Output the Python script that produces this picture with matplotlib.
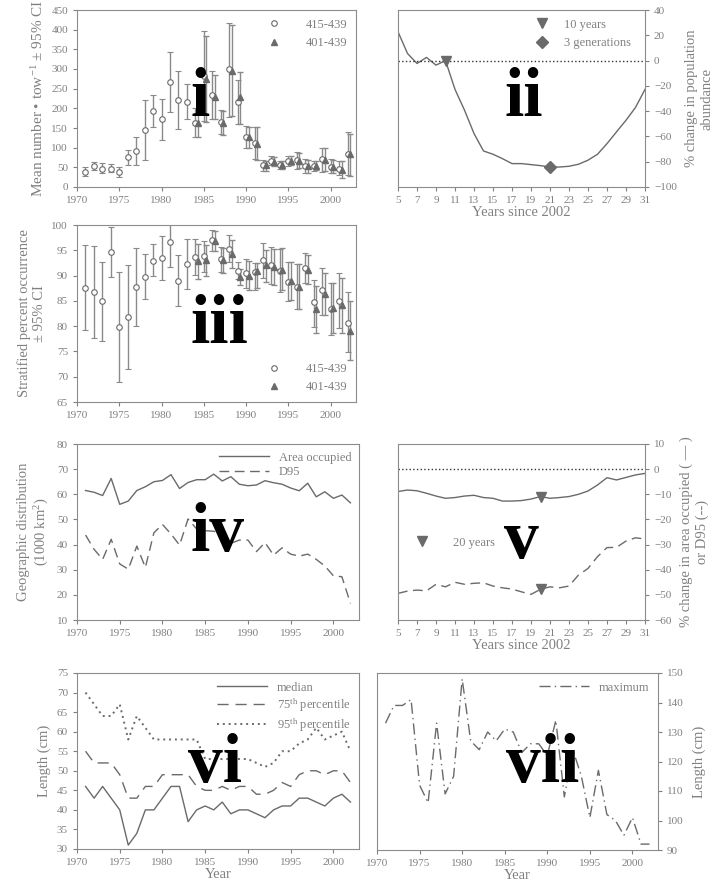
import numpy as np
import matplotlib
matplotlib.use("Agg")
import matplotlib.pyplot as plt

plt.rcParams["font.family"] = ["Liberation Serif", "DejaVu Serif"]
plt.rcParams["mathtext.fontset"] = "custom"
plt.rcParams["mathtext.rm"] = "Liberation Serif"
plt.rcParams["mathtext.it"] = "Liberation Serif:italic"

TXT = "#808080"
LN = "#6a6a6a"
plt.rcParams.update({
    "text.color": TXT, "axes.labelcolor": TXT, "xtick.color": TXT,
    "ytick.color": TXT, "axes.edgecolor": "#8c8c8c",
    "xtick.labelsize": 8, "ytick.labelsize": 8, "axes.labelsize": 10.5,
    "xtick.major.size": 3, "ytick.major.size": 3,
    "xtick.major.width": 0.8, "ytick.major.width": 0.8,
})

# ---- data ----
years = np.arange(1971, 2003)
years_b = np.arange(1984, 2003)

# (i) mean number per tow, 415-439 and 401-439
tow_a = [38, 53, 47, 47, 38, 76, 92, 146, 193, 174, 268, 222, 216, 163, 282, 235,
         166, 299, 215, 127, 112, 57, 66, 55, 66, 68, 53, 53, 70, 51, 47, 85]
tow_a_lo = [28, 42, 35, 37, 25, 57, 57, 68, 153, 120, 191, 147, 172, 128, 168, 174,
            136, 178, 161, 99, 70, 40, 55, 45, 53, 47, 35, 40, 38, 35, 30, 30]
tow_a_hi = [50, 64, 60, 58, 52, 95, 127, 222, 233, 225, 344, 296, 261, 200, 396, 295,
            197, 416, 272, 154, 153, 68, 78, 66, 80, 88, 70, 65, 100, 70, 67, 140]
tow_b = [163, 275, 229, 163, 295, 229, 127, 109, 55, 64, 57, 66, 66, 53, 53, 68, 51, 44, 83]
tow_b_lo = [127, 165, 172, 133, 180, 161, 99, 68, 41, 53, 47, 55, 48, 35, 42, 40, 35, 22, 28]
tow_b_hi = [200, 384, 286, 193, 412, 293, 153, 153, 66, 76, 67, 78, 87, 68, 65, 98, 68, 65, 135]

# (ii) % change in abundance
proj_years = np.arange(5, 32)
abund_chg = [22.8, 5.6, -2.3, 2.5, -3.6, 0, -22.8, -39.2, -57.7, -71.5, -74.1, -77.6,
             -81.5, -81.5, -82.3, -83.1, -84.2, -84.2, -83.6, -82.0, -78.8, -74.1,
             -65.7, -56.4, -47.2, -37.1, -22.8]

# (iii) stratified percent occurrence
occ_a = [87.5, 86.7, 84.9, 94.6, 79.9, 81.8, 87.7, 89.7, 92.9, 93.5, 96.6, 89.0, 92.3,
         93.7, 93.8, 97.1, 93.3, 95.2, 91.0, 90.5, 90.8, 93.1, 92.1, 91.0, 88.7, 87.7,
         91.5, 84.7, 87.2, 83.4, 85.0, 80.7]
occ_a_lo = [79.3, 77.6, 77.1, 89.7, 68.9, 71.5, 80.1, 85.3, 90.0, 89.2, 91.6, 83.9, 87.3,
            90.2, 90.8, 94.8, 90.8, 92.6, 89.3, 87.5, 87.2, 89.6, 88.3, 86.7, 84.9, 83.4,
            88.5, 79.9, 82.2, 78.3, 79.6, 74.8]
occ_a_hi = [96.1, 95.8, 92.7, 99.7, 90.8, 92.1, 95.4, 94.3, 96.2, 97.9, 100.5, 94.1, 97.2,
            97.2, 96.9, 99.1, 95.6, 98.1, 92.6, 93.3, 92.5, 96.4, 95.6, 95.2, 92.6, 92.2,
            94.5, 89.2, 91.5, 88.5, 90.6, 86.7]
occ_b = [92.9, 93.0, 96.9, 93.0, 94.3, 89.8, 90.0, 91.0, 92.0, 91.6, 91.2, 89.0, 87.8,
         91.1, 83.4, 86.4, 83.6, 84.2, 79.1]
occ_b_lo = [89.3, 90.0, 94.8, 90.6, 91.5, 88.2, 87.1, 87.5, 88.8, 88.2, 87.1, 85.2, 83.4,
            88.4, 78.7, 82.2, 78.6, 78.6, 73.3]
occ_b_hi = [96.3, 96.1, 98.9, 95.4, 97.0, 91.3, 92.8, 92.5, 95.1, 95.2, 95.4, 92.7, 92.2,
            94.1, 88.0, 90.6, 88.5, 89.5, 84.9]

# (iv) geographic distribution (1000 km2)
area_occ = [61.5, 60.8, 59.5, 66.3, 56.0, 57.3, 61.5, 63.0, 65.0, 65.5, 67.8, 62.3, 64.7,
            65.8, 65.8, 68.0, 65.3, 67.0, 64.0, 63.4, 63.7, 65.4, 64.6, 64.0, 62.5, 61.4,
            64.4, 59.0, 61.0, 58.4, 59.7, 56.6]
d95 = [43.8, 38.1, 34.1, 42.1, 32.3, 30.2, 39.4, 30.9, 44.7, 48.0, 44.2, 39.8, 50.2,
       46.2, 45.5, 45.3, 44.0, 40.5, 41.8, 41.8, 37.2, 40.8, 35.8, 38.7, 36.2, 35.4,
       36.2, 34.1, 31.5, 27.6, 27.2, 16.6]

# (v) % change in area occupied / D95
area_chg = [-8.9, -8.3, -8.6, -9.6, -10.7, -11.6, -11.3, -10.7, -10.4, -11.3, -11.6,
            -12.7, -12.7, -12.5, -11.9, -10.9, -11.6, -11.3, -10.9, -10.0, -8.7, -6.3,
            -3.4, -4.3, -3.3, -2.3, -1.7]
d95_chg = [-49.4, -48.5, -48.1, -48.4, -45.8, -46.8, -45.0, -45.8, -45.4, -45.2, -46.5,
           -47.2, -47.7, -48.8, -49.8, -47.8, -46.8, -47.2, -46.5, -42.1, -39.5, -34.8,
           -31.2, -31.1, -28.6, -27.3, -27.8]

# (vi) length percentiles (cm)
len_med = [46, 43, 46, 43, 40, 31, 34, 40, 40, 43, 46, 46, 37, 40, 41, 40, 42, 39, 40, 40,
           39, 38, 40, 41, 41, 43, 43, 42, 41, 43, 44, 42]
len_p75 = [55, 52, 52, 52, 49, 43, 43, 46, 46, 49, 49, 49, 49, 46, 45, 45, 46, 45, 46, 46,
           44, 44, 45, 47, 46, 49, 50, 50, 49, 50, 50, 47]
len_p95 = [70, 67, 64, 64, 67, 58, 64, 61, 58, 58, 58, 58, 58, 58, 53, 53, 53, 53, 53, 53,
           52, 51, 52, 55, 55, 57, 58, 61, 58, 59, 60, 55]

# (vii) maximum length (cm)
len_max = [133, 139, 139, 141, 112, 106, 133, 109, 115, 148, 127, 124, 130, 127, 131, 130,
           123, 126, 126, 122, 134, 108, 124, 115, 101, 117, 102, 100, 95, 101, 92, 92]

W, H = 717, 892


def add_ax(l, t, r, b):
    return fig.add_axes([l / W, 1 - b / H, (r - l) / W, (b - t) / H])


def big(ax, s, x, y):
    ax.text(x, y, s, transform=ax.transAxes, fontsize=50, fontweight="bold",
            color="black", ha="center", va="center", zorder=10)


def year_axis(ax):
    ax.set_xlim(1970, 2003)
    ax.set_xticks(range(1970, 2001, 5))


fig = plt.figure(figsize=(W / 100, H / 100), dpi=100)

# ---------- (i) ----------
ax = add_ax(77, 10, 356, 187)
ea = np.array(tow_a)
eb = np.array(tow_b)
ax.errorbar(years, ea, yerr=[ea - np.array(tow_a_lo), np.array(tow_a_hi) - ea],
            fmt="o", ms=4, mfc="white", mec=LN, mew=0.8, ecolor="#8a8a8a",
            elinewidth=1, capsize=2.5, label="415-439")
ax.errorbar(years_b + 0.3, eb, yerr=[eb - np.array(tow_b_lo), np.array(tow_b_hi) - eb],
            fmt="^", ms=4, mfc=LN, mec=LN, ecolor="#8a8a8a",
            elinewidth=1, capsize=2.5, label="401-439")
year_axis(ax)
ax.set_ylim(0, 450)
ax.set_yticks(range(0, 451, 50))
ax.set_ylabel("Mean number • tow$^{-1}$ ± 95% CI", fontsize=11)
h, l = ax.get_legend_handles_labels()
ax.legend([x[0] for x in h], l, loc="upper right", frameon=False, fontsize=9,
          handletextpad=1.5, borderaxespad=0.3)
big(ax, "i", 0.44, 0.5)

# ---------- (ii) ----------
ax = add_ax(398, 10, 645, 187)
ax.plot(proj_years, abund_chg, color=LN, lw=1)
ax.axhline(0, color="#333333", ls=":", lw=1)
ax.plot([10], [abund_chg[5]], "v", color=LN, ms=7, ls="none", label="10 years")
ax.plot([21], [abund_chg[16]], "D", color=LN, ms=6, ls="none", label="3 generations")
ax.set_xlim(5, 31)
ax.set_xticks(range(5, 32, 2))
ax.set_ylim(-100, 40)
ax.set_yticks(range(-100, 41, 20))
ax.yaxis.tick_right()
ax.yaxis.set_label_position("right")
ax.tick_params(axis="y", left=False)
ax.set_xlabel("Years since 2002", labelpad=1)
ax.set_ylabel("% change in population\nabundance", labelpad=6)
ax.legend(loc="upper right", frameon=False, fontsize=9, borderaxespad=0.3,
          bbox_to_anchor=(0.98, 1.0))
big(ax, "ii", 0.51, 0.5)

# ---------- (iii) ----------
ax = add_ax(77, 225, 356, 402)
oa = np.array(occ_a)
ob = np.array(occ_b)
ax.errorbar(years, oa, yerr=[oa - np.array(occ_a_lo), np.array(occ_a_hi) - oa],
            fmt="o", ms=4, mfc="white", mec=LN, mew=0.8, ecolor="#8a8a8a",
            elinewidth=1, capsize=2.5, label="415-439")
ax.errorbar(years_b + 0.3, ob, yerr=[ob - np.array(occ_b_lo), np.array(occ_b_hi) - ob],
            fmt="^", ms=4, mfc=LN, mec=LN, ecolor="#8a8a8a",
            elinewidth=1, capsize=2.5, label="401-439")
year_axis(ax)
ax.set_ylim(65, 100)
ax.set_yticks(range(65, 101, 5))
ax.set_ylabel("Stratified percent occurrence\n± 95% CI")
h, l = ax.get_legend_handles_labels()
ax.legend([x[0] for x in h], l, loc="lower right", frameon=False, fontsize=9,
          handletextpad=1.5, borderaxespad=0.3)
big(ax, "iii", 0.51, 0.43)

# ---------- (iv) ----------
ax = add_ax(77, 444, 359, 620)
ax.plot(years, area_occ, color=LN, lw=1, label="Area occupied")
ax.plot(years, d95, color=LN, lw=1, ls=(0, (7, 4)), label="D95")
year_axis(ax)
ax.set_ylim(10, 80)
ax.set_yticks(range(10, 81, 10))
ax.set_ylabel("Geographic distribution\n(1000 km$^2$)")
ax.legend(loc="upper right", frameon=False, fontsize=9, handlelength=4,
          borderaxespad=0.2, labelspacing=0.2)
big(ax, "iv", 0.5, 0.49)

# ---------- (v) ----------
ax = add_ax(398, 444, 645, 620)
ax.plot(proj_years, area_chg, color=LN, lw=1)
ax.plot(proj_years, d95_chg, color=LN, lw=1, ls=(0, (7, 4)))
ax.axhline(0, color="#333333", ls=":", lw=1)
ax.plot([20, 20], [area_chg[15], d95_chg[15]], "v", color=LN, ms=7, ls="none",
        label="20 years")
ax.set_xlim(5, 31)
ax.set_xticks(range(5, 32, 2))
ax.set_ylim(-60, 10)
ax.set_yticks(range(-60, 11, 10))
ax.yaxis.tick_right()
ax.yaxis.set_label_position("right")
ax.tick_params(axis="y", left=False)
ax.set_xlabel("Years since 2002", labelpad=1)
ax.set_ylabel("% change in area occupied ( — )\nor D95 (--)", labelpad=6)
ax.legend(loc="center left", frameon=False, fontsize=9, bbox_to_anchor=(0.0, 0.44),
          handletextpad=1.5)
big(ax, "v", 0.5, 0.45)

# ---------- (vi) ----------
ax = add_ax(77, 673, 359, 849)
ax.plot(years, len_med, color=LN, lw=1, label="median")
ax.plot(years, len_p75, color=LN, lw=1, ls=(0, (8, 5)), label="75$^{\\rm th}$ percentile")
ax.plot(years, len_p95, color=LN, lw=1.4, ls=(0, (1, 2)), label="95$^{\\rm th}$ percentile")
year_axis(ax)
ax.set_ylim(30, 75)
ax.set_yticks(range(30, 76, 5))
ax.set_ylabel("Length (cm)")
ax.set_xlabel("Year", labelpad=1)
ax.legend(loc="upper right", frameon=False, fontsize=9, handlelength=4,
          borderaxespad=0.3, labelspacing=0.2)
big(ax, "vi", 0.49, 0.48)

# ---------- (vii) ----------
ax = add_ax(377, 673, 658, 850)
ax.plot(years, len_max, color=LN, lw=1, ls=(0, (8, 3, 1, 3)), label="maximum")
year_axis(ax)
ax.set_ylim(90, 150)
ax.set_yticks(range(90, 151, 10))
ax.yaxis.tick_right()
ax.yaxis.set_label_position("right")
ax.tick_params(axis="y", left=False)
ax.set_ylabel("Length (cm)", labelpad=6)
ax.set_xlabel("Year", labelpad=1)
ax.legend(loc="upper right", frameon=False, fontsize=9, handlelength=4,
          borderaxespad=0.3)
big(ax, "vii", 0.59, 0.48)

fig.savefig("out.png", dpi=100)
